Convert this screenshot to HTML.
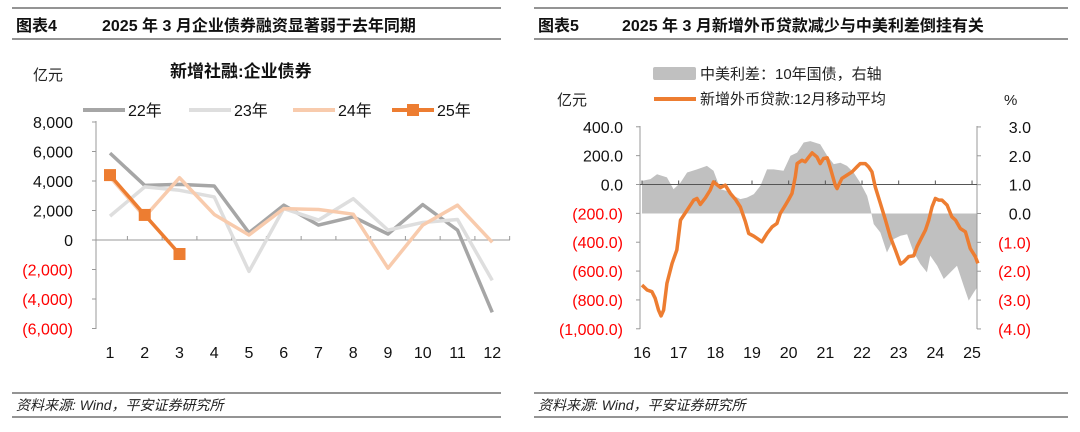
<!DOCTYPE html>
<html><head><meta charset="utf-8">
<style>
body{margin:0;background:#fff;width:1080px;height:432px;overflow:hidden;font-family:"Liberation Sans","Noto Sans CJK SC",sans-serif;}
svg{display:block}
text{font-family:"Liberation Sans","Noto Sans CJK SC",sans-serif;}
</style></head>
<body>
<svg id="s" width="1080" height="432">
<g>
<line x1="12" y1="8" x2="501" y2="8" stroke="#555" stroke-width="1.2"/>
<line x1="12" y1="39" x2="501" y2="39" stroke="#555" stroke-width="1.2"/>
<text x="16" y="31" font-size="16" font-weight="bold" fill="#111">图表4</text>
<text x="102" y="31" font-size="16" font-weight="bold" fill="#111">2025 年 3 月企业债券融资显著弱于去年同期</text>
</g>
<g>
<line x1="534" y1="8" x2="1068" y2="8" stroke="#555" stroke-width="1.2"/>
<line x1="534" y1="39" x2="1068" y2="39" stroke="#555" stroke-width="1.2"/>
<text x="538" y="31" font-size="16" font-weight="bold" fill="#111">图表5</text>
<text x="622" y="31" font-size="16" font-weight="bold" fill="#111">2025 年 3 月新增外币贷款减少与中美利差倒挂有关</text>
</g>
<g>
<line x1="12" y1="393" x2="501" y2="393" stroke="#555" stroke-width="1.2"/>
<line x1="12" y1="417" x2="501" y2="417" stroke="#555" stroke-width="1.2"/>
<text x="16" y="410" font-size="14" font-style="italic" fill="#222">资料来源: Wind，平安证券研究所</text>
<line x1="534" y1="393" x2="1068" y2="393" stroke="#555" stroke-width="1.2"/>
<line x1="534" y1="417" x2="1068" y2="417" stroke="#555" stroke-width="1.2"/>
<text x="538" y="410" font-size="14" font-style="italic" fill="#222">资料来源: Wind，平安证券研究所</text>
</g>
<text x="33" y="80" font-size="15" fill="#222">亿元</text>
<text x="170" y="77" font-size="17" font-weight="bold" fill="#111">新增社融:企业债券</text>
<g id="L"></g>
<text x="557" y="105" font-size="15" fill="#222">亿元</text>
<text x="1004" y="105" font-size="15" fill="#222">%</text>
<g>
<rect x="653" y="67" width="43" height="13" rx="2" fill="#c0c0c0"/>
<text x="700" y="79" font-size="15" fill="#222">中美利差：10年国债，右轴</text>
<line x1="654" y1="99" x2="696" y2="99" stroke="#ed7d31" stroke-width="4"/>
<text x="700" y="104" font-size="15" fill="#222">新增外币贷款:12月移动平均</text>
</g>
<g id="R"></g>
</svg>
<script>
// ---- Left chart data ----
const months=[1,2,3,4,5,6,7,8,9,10,11,12];
const leftTicks=[8000,6000,4000,2000,0,-2000,-4000,-6000];
const s22=[5890,3700,3770,3660,490,2360,1010,1570,400,2400,670,-4900];
const s23=[1620,3600,3370,2920,-2130,2130,1350,2800,670,1190,1390,-2740];
const s24=[4270,1570,4220,1730,340,2130,2070,1750,-1910,1010,2360,-160];
const s25=[4400,1700,-950];
// ---- Right chart data ----
const yearTicks=[16,17,18,19,20,21,22,23,24,25];
const leftAxisTicks=[400,200,0,-200,-400,-600,-800,-1000];
const rightAxisTicks=[3,2,1,0,-1,-2,-3,-4];
const loanT=[16.0,16.14,16.27,16.36,16.45,16.52,16.59,16.68,16.82,16.95,17.05,17.23,17.41,17.5,17.59,17.73,17.86,17.95,18.14,18.27,18.41,18.55,18.68,18.82,18.91,19.05,19.18,19.27,19.41,19.55,19.68,19.77,19.91,20.0,20.09,20.18,20.23,20.36,20.45,20.55,20.64,20.77,20.86,20.95,21.05,21.14,21.27,21.32,21.45,21.59,21.73,21.86,21.95,22.09,22.18,22.27,22.36,22.5,22.64,22.77,22.91,23.05,23.14,23.27,23.41,23.5,23.59,23.73,23.82,23.91,24.0,24.09,24.18,24.32,24.45,24.55,24.68,24.82,24.95,25.09,25.16];
const loanV=[-697,-731,-743,-789,-870,-911,-870,-685,-547,-454,-247,-178,-108,-97,-138,-92,-39,18,-21,-5,-62,-104,-155,-258,-339,-358,-381,-397,-339,-293,-270,-201,-143,-104,-62,53,145,168,157,191,219,191,145,180,185,111,-5,-28,42,65,88,122,145,145,122,88,-16,-131,-247,-362,-454,-551,-535,-500,-494,-431,-385,-316,-247,-155,-97,-108,-108,-143,-224,-247,-305,-328,-443,-500,-547];
const sprT=[16.0,16.23,16.41,16.68,16.86,17.05,17.23,17.5,17.77,17.95,18.14,18.32,18.5,18.68,18.86,19.05,19.23,19.41,19.59,19.86,20.05,20.23,20.41,20.59,20.86,21.05,21.23,21.41,21.59,21.77,21.95,22.14,22.23,22.32,22.5,22.68,22.86,23.05,23.23,23.41,23.59,23.77,23.86,24.05,24.23,24.41,24.59,24.77,24.91,25.05,25.14];
const sprV=[1.13,1.19,1.36,1.25,0.84,1.07,1.42,1.53,1.65,1.48,0.84,0.78,0.61,0.5,0.55,0.67,0.96,1.53,1.53,1.48,2.0,2.11,2.46,2.51,2.4,2.0,1.71,1.76,1.65,1.42,1.07,0.61,0.15,-0.37,-0.66,-1.35,-0.89,-0.77,-0.72,-1.35,-1.75,-2.04,-1.46,-1.81,-2.27,-2.04,-1.81,-2.5,-3.02,-2.73,-2.56];

const NS='http://www.w3.org/2000/svg';
function mk(p,tag,a){const e=document.createElementNS(NS,tag);for(const k in a)e.setAttribute(k,a[k]);p.appendChild(e);return e;}
function fmt(v,d){const s=Math.abs(v).toLocaleString('en-US',{minimumFractionDigits:d,maximumFractionDigits:d});return v<0?'('+s+')':s;}

// Left chart
const L=document.getElementById('L');
const lx=m=>110+(m-1)*34.75;
const ly=v=>240-v*(118/8000);
let e=mk(L,'line',{x1:96,y1:121,x2:96,y2:329,stroke:'#999'});


e=mk(L,'line',{x1:96,y1:240,x2:510,y2:240,stroke:'#999'});


leftTicks.forEach(v=>{
  mk(L,'line',{x1:92,y1:ly(v),x2:96,y2:ly(v),stroke:'#999'});
  const t=mk(L,'text',{x:73,y:ly(v)+6,'font-size':16,'text-anchor':'end',fill:v<0?'#ff0000':'#111'});
  t.textContent=fmt(v,0);
  
  
});
months.forEach(m=>{
  mk(L,'line',{x1:lx(m)+17.4,y1:240,x2:lx(m)+17.4,y2:236,stroke:'#999'});
  const t=mk(L,'text',{x:lx(m),y:358,'font-size':16,'text-anchor':'middle',fill:'#111'});
  t.textContent=m;
  
  
});
function series(arr,col,name){
  const p=mk(L,'polyline',{points:arr.map((v,i)=>lx(months[i])+','+ly(v)).join(' '),fill:'none',stroke:col,'stroke-width':3.5,'stroke-linejoin':'round'});
  
  
}
series(s22,'#a6a6a6','line-22');
series(s23,'#dedede','line-23');
series(s24,'#f8cbad','line-24');
series(s25,'#ed7d31','line-25');
s25.forEach((v,i)=>{
  const r=mk(L,'rect',{x:lx(months[i])-6,y:ly(v)-6,width:12,height:12,fill:'#ed7d31'});
  
  
});
// legend
const leg=[['22年','#a6a6a6',83],['23年','#dedede',189],['24年','#f8cbad',293],['25年','#ed7d31',392]];
leg.forEach(([lab,col,x])=>{
  const g=mk(L,'g',{});
  
  
  mk(g,'line',{x1:x,y1:110,x2:x+42,y2:110,stroke:col,'stroke-width':4});
  if(lab==='25年')mk(g,'rect',{x:x+15,y:104,width:12,height:12,fill:col});
  const t=mk(g,'text',{x:x+45,y:116,'font-size':16,fill:'#111'});t.textContent=lab;
});

// Right chart
const R=document.getElementById('R');
const rx=t=>642+(t-16)*36.67;
const ryL=v=>184.5-v*(202/1400);
const ryR=v=>213.5-v*(202/7);
// area
let d='M'+rx(sprT[0])+','+ryR(0);
sprT.forEach((t,i)=>{d+=' L'+rx(t)+','+ryR(sprV[i]);});
d+=' L'+rx(sprT[sprT.length-1])+','+ryR(0)+' Z';
e=mk(R,'path',{d:d,fill:'#c0c0c0'});


e=mk(R,'line',{x1:640,y1:126,x2:640,y2:329,stroke:'#999'});


e=mk(R,'line',{x1:977,y1:126,x2:977,y2:329,stroke:'#999'});


e=mk(R,'line',{x1:640,y1:ryL(0),x2:977,y2:ryL(0),stroke:'#555'});


leftAxisTicks.forEach(v=>{
  mk(R,'line',{x1:636,y1:ryL(v),x2:640,y2:ryL(v),stroke:'#999'});
  const t=mk(R,'text',{x:623,y:ryL(v)+6,'font-size':16,'text-anchor':'end',fill:v<0?'#ff0000':'#111'});
  t.textContent=fmt(v,1);
  
  
});
rightAxisTicks.forEach(v=>{
  mk(R,'line',{x1:977,y1:ryR(v),x2:981,y2:ryR(v),stroke:'#999'});
  const t=mk(R,'text',{x:1031,y:ryR(v)+6,'font-size':16,'text-anchor':'end',fill:v<0?'#ff0000':'#111'});
  t.textContent=fmt(v,1);
  
  
});
yearTicks.forEach(y=>{
  mk(R,'line',{x1:rx(y),y1:ryL(0),x2:rx(y),y2:ryL(0)-4,stroke:'#555'});
  const t=mk(R,'text',{x:rx(y),y:358,'font-size':16,'text-anchor':'middle',fill:'#111'});
  t.textContent=y;
  
  
});
e=mk(R,'polyline',{points:loanT.map((t,i)=>rx(t)+','+ryL(loanV[i])).join(' '),fill:'none',stroke:'#ed7d31','stroke-width':3.5,'stroke-linejoin':'round'});


</script>
</body></html>
